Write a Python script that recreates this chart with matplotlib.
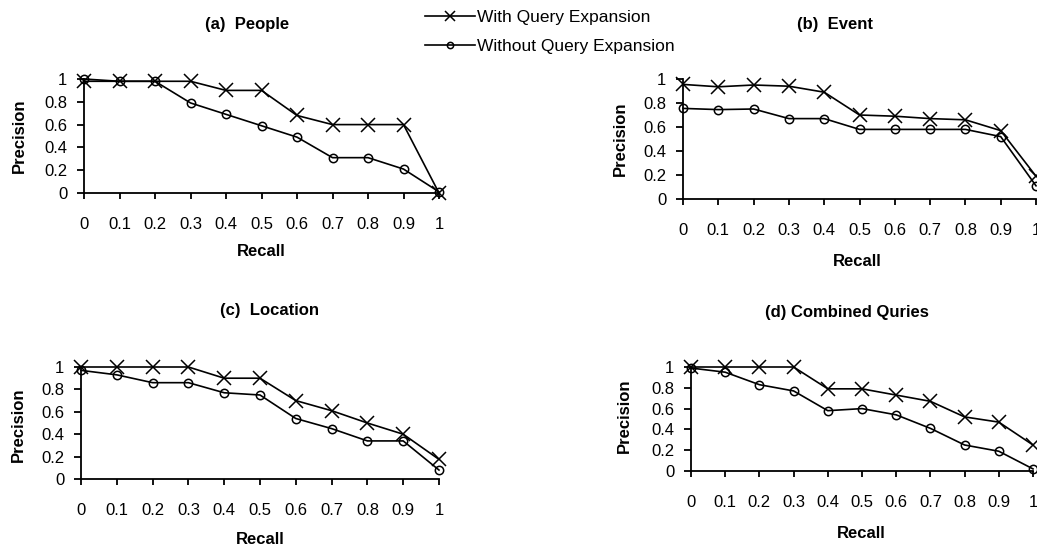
import numpy as np
import matplotlib.pyplot as plt
from matplotlib.lines import Line2D

plt.rcParams['font.family'] = ['Liberation Sans', 'DejaVu Sans']

recall = [0, 0.1, 0.2, 0.3, 0.4, 0.5, 0.6, 0.7, 0.8, 0.9, 1.0]
recall_labels = ["0", "0.1", "0.2", "0.3", "0.4", "0.5", "0.6", "0.7", "0.8", "0.9", "1"]
prec_ticks = [0, 0.2, 0.4, 0.6, 0.8, 1.0]
prec_labels = ["0", "0.2", "0.4", "0.6", "0.8", "1"]

# precision values
people_with = [0.98, 0.98, 0.98, 0.98, 0.90, 0.90, 0.68, 0.60, 0.60, 0.60, 0.0]
people_without = [1.0, 0.98, 0.98, 0.79, 0.69, 0.59, 0.49, 0.31, 0.31, 0.21, 0.01]
event_with = [0.955, 0.935, 0.95, 0.94, 0.89, 0.70, 0.69, 0.67, 0.66, 0.57, 0.19]
event_without = [0.755, 0.745, 0.75, 0.67, 0.67, 0.58, 0.58, 0.58, 0.58, 0.52, 0.11]
location_with = [1.0, 1.0, 1.0, 1.0, 0.90, 0.90, 0.70, 0.61, 0.50, 0.40, 0.175]
location_without = [0.97, 0.93, 0.86, 0.86, 0.77, 0.75, 0.54, 0.45, 0.34, 0.34, 0.08]
combined_with = [1.0, 1.0, 1.0, 1.0, 0.79, 0.79, 0.73, 0.67, 0.52, 0.47, 0.25]
combined_without = [0.99, 0.95, 0.83, 0.77, 0.58, 0.60, 0.54, 0.41, 0.25, 0.19, 0.02]

W, H = 1037, 548
fig = plt.figure(figsize=(W / 100, H / 100), dpi=100)


def px_axes(left, right, top, bottom):
    return fig.add_axes([left / W, 1 - bottom / H, (right - left) / W, (bottom - top) / H])


def ftext(x, y, s, **kw):
    fig.text(x / W, 1 - y / H, s, ha="center", va="center", **kw)


panels = [
    # (title, with, without, axes box, title pos, recall pos, precision pos)
    ("(a)  People", people_with, people_without, (84, 439, 79, 193), (247, 24), (261, 251), (19, 136)),
    ("(b)  Event", event_with, event_without, (683, 1036, 79, 199), (835, 24), (857, 262), (620, 139)),
    ("(c)  Location", location_with, location_without, (81, 439, 367, 479), (269, 311), (260, 539), (18, 425)),
    ("(d) Combined Quries", combined_with, combined_without, (691, 1033, 367, 471), (847, 312), (861, 534), (624, 416)),
]

for title, yw, yo, box, tpos, rpos, ppos in panels:
    ax = px_axes(*box)
    ax.plot(recall, yw, color="black", lw=1.2, marker="x", ms=9.5, mew=1.1, clip_on=False)
    ax.plot(recall, yo, color="black", lw=1.2, marker="o", ms=6, mfc="none", mew=1.1, clip_on=False)
    ax.set_xlim(0, 1)
    ax.set_ylim(0, 1)
    ax.set_xticks(recall)
    ax.set_xticklabels(recall_labels)
    ax.set_yticks(prec_ticks)
    ax.set_yticklabels(prec_labels)
    ax.spines["top"].set_visible(False)
    ax.spines["right"].set_visible(False)
    for sp in ("left", "bottom"):
        ax.spines[sp].set_linewidth(1.3)
    ax.tick_params(axis="x", direction="out", length=4, width=1.3, pad=13, labelsize=12)
    ax.tick_params(axis="y", direction="out", length=5, width=1.3, pad=7, labelsize=12)
    ax.patch.set_alpha(0)
    ftext(*tpos, title, fontsize=12, fontweight="bold")
    ftext(*rpos, "Recall", fontsize=12, fontweight="bold")
    ftext(*ppos, "Precision", fontsize=12, fontweight="bold", rotation=90)

handles = [
    Line2D([], [], color="black", lw=1.2, marker="x", ms=6.5, mew=1.1),
    Line2D([], [], color="black", lw=1.2, marker="o", ms=4.5, mfc="none", mew=1.1),
]
fig.legend(handles, ["With Query Expansion", "Without Query Expansion"],
           loc="upper left", bbox_to_anchor=(425 / W, 1 - 10 / H), frameon=False,
           fontsize=12.5, handlelength=2.9, handletextpad=0.1, labelspacing=0.8,
           borderpad=0, borderaxespad=0)

fig.savefig("out.png", dpi=100)
